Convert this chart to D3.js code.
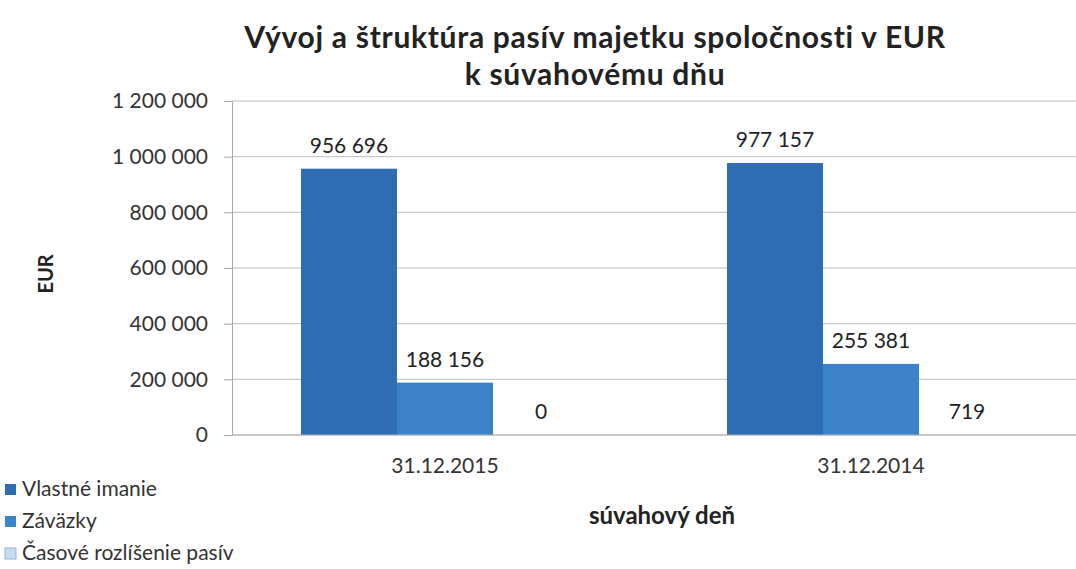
<!DOCTYPE html>
<html><head><meta charset="utf-8">
<script src="https://cdn.jsdelivr.net/npm/d3@7"></script>
<style>
body{margin:0;background:#fff;}
svg{display:block;font-family:Lato,"Open Sans",sans-serif;}
</style></head><body>
<svg id="c" width="1076" height="569"></svg>
<script>
const categories = ["31.12.2015", "31.12.2014"];
const seriesNames = ["Vlastné imanie", "Záväzky", "Časové rozlíšenie pasív"];
const vlastneImanie = [956696, 977157];
const zavazky = [188156, 255381];
const casoveRozlisenie = [0, 719];
const yTicks = [0, 200000, 400000, 600000, 800000, 1000000, 1200000];
const colors = ["#2f6db3", "#3b83c9", "#c6dcf1"];
const titleLines = ["Vývoj a štruktúra pasív majetku spoločnosti v EUR", "k súvahovému dňu"];

(function() {
const series = [vlastneImanie, zavazky, casoveRozlisenie];
const svg = d3.select("#c");
const pl = 232, pr = 1084, pt = 101, pb = 435;

const x = d3.scaleBand().domain(categories).range([pl, pr]).paddingInner(0.324).paddingOuter(0.162);
const xs = d3.scaleBand().domain(d3.range(series.length)).range([0, x.bandwidth()]);
const y = d3.scaleLinear().domain([0, 1200000]).range([pb, pt]);
const fmt = v => d3.format(",")(v).replace(/,/g, " ");

// grid
svg.append("g").selectAll("line").data(yTicks).join("line")
  .attr("x1", pl).attr("x2", 1076).attr("y1", d => y(d)).attr("y2", d => y(d))
  .attr("stroke", "#bdbdbd").attr("stroke-width", 1);

// y axis
const ya = svg.append("g").attr("transform", `translate(${pl},0)`)
  .call(d3.axisLeft(y).tickValues(yTicks).tickFormat(fmt).tickSize(8).tickPadding(16));
ya.select(".domain").attr("stroke", "#a8a8a8");
ya.selectAll(".tick line").attr("stroke", "#a8a8a8");
ya.selectAll("text").attr("font-size", 21).attr("fill", "#333").attr("font-family", "Lato,sans-serif");

// bars
const groups = svg.append("g").selectAll("g").data(categories).join("g")
  .attr("transform", d => `translate(${x(d)},0)`);
groups.each(function(cat, ci) {
  const g = d3.select(this);
  series.forEach((s, si) => {
    const v = s[ci];
    g.append("rect").attr("x", xs(si)).attr("width", xs.bandwidth())
      .attr("y", y(v)).attr("height", Math.max(0, y(0) - y(v)))
      .attr("fill", colors[si]);
    g.append("text").attr("x", xs(si) + xs.bandwidth() / 2).attr("y", y(v) - 16)
      .attr("text-anchor", "middle").attr("font-size", 21).attr("fill", "#222")
      .text(fmt(v));
  });
});
svg.append("line").attr("x1", pl).attr("x2", 1076).attr("y1", pb).attr("y2", pb)
  .attr("stroke", "#b0b0b0");

// x labels
svg.append("g").selectAll("text").data(categories).join("text")
  .attr("x", d => x(d) + x.bandwidth() / 2).attr("y", 473)
  .attr("text-anchor", "middle").attr("font-size", 21).attr("fill", "#333").text(d => d);

// titles
svg.selectAll("text.title").data(titleLines).join("text").attr("class", "title")
  .attr("x", 595).attr("y", (d, i) => 48 + i * 37).attr("text-anchor", "middle")
  .attr("font-size", 30).attr("letter-spacing", 0.7).attr("font-weight", "bold").attr("fill", "#222").text(d => d);

svg.append("text").attr("transform", "translate(53,274) rotate(-90)")
  .attr("text-anchor", "middle").attr("font-size", 20).attr("font-weight", "bold").attr("fill", "#222").text("EUR");
svg.append("text").attr("x", 662).attr("y", 524).attr("text-anchor", "middle")
  .attr("font-size", 24).attr("font-weight", "bold").attr("fill", "#222").text("súvahový deň");

// legend
const lg = svg.append("g").selectAll("g").data(seriesNames).join("g")
  .attr("transform", (d, i) => `translate(5,${484 + i * 32})`);
lg.append("rect").attr("width", 11).attr("height", 11).attr("y", 0)
  .attr("fill", (d, i) => colors[i]).attr("stroke", (d, i) => i === 2 ? "#8fb2d6" : "none");
lg.append("text").attr("x", 17).attr("y", 12).attr("font-size", 21).attr("fill", "#333").text(d => d);
})();
</script></body></html>
